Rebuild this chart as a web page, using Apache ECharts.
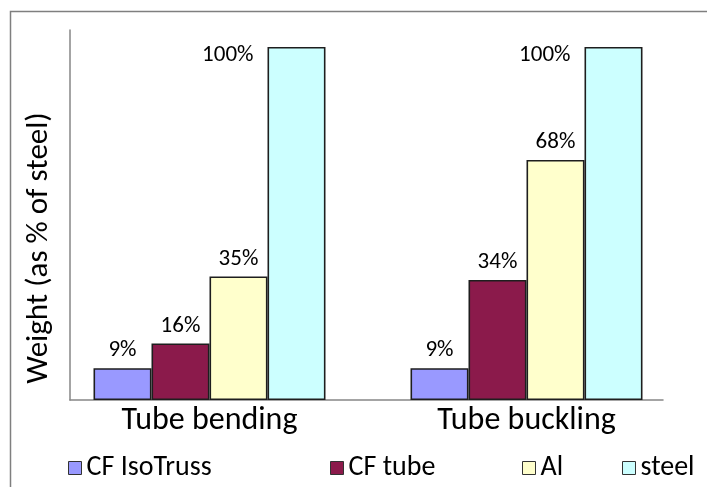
<!DOCTYPE html>
<html>
<head>
<meta charset="utf-8">
<script src="https://cdn.jsdelivr.net/npm/echarts@6/dist/echarts.min.js"></script>
<style>
html,body{margin:0;padding:0;background:#fff;}
#chart{width:707px;height:487px;}
</style>
</head>
<body>
<div id="chart"></div>
<script>
const categories = ['Tube bending', 'Tube buckling'];
const seriesNames = ['CF IsoTruss', 'CF tube', 'Al', 'steel'];
const cfIsoTruss = [9, 9];
const cfTube = [16, 34];
const aluminium = [35, 68];
const steel = [100, 100];
const seriesValues = [cfIsoTruss, cfTube, aluminium, steel];
const colors = ['#9999FF', '#8B1A4B', '#FFFFCC', '#CCFFFF'];

const FONT = 'Carlito, Lato, sans-serif';
const legendLeft = [68, 330, 522, 622];

const chart = echarts.init(document.getElementById('chart'), null, {renderer: 'canvas'});

const series = seriesNames.map((name, i) => ({
  name: name,
  type: 'bar',
  xAxisIndex: 0,
  yAxisIndex: 0,
  barWidth: 58,
  barGap: '0%',
  itemStyle: {color: colors[i], borderColor: '#1e1e1e', borderWidth: 1.6},
  label: {
    show: true,
    position: 'top',
    distance: 6,
    formatter: '{c}%',
    fontFamily: FONT,
    fontSize: 23,
    color: '#000'
  },
  data: seriesValues[i].map(v => v >= 100 ? {
    value: v,
    label: {position: [-14, 8], align: 'right', verticalAlign: 'middle'}
  } : v)
}));

const option = {
  animation: false,
  backgroundColor: '#fff',
  graphic: [{
    type: 'rect',
    shape: {x: 10.5, y: 11.5, width: 800, height: 600},
    style: {fill: 'none', stroke: '#7f7f7f', lineWidth: 1.5},
    silent: true
  }],
  grid: [
    {left: 51, width: 634, top: 47, bottom: 87},
    {left: 70, right: 44, top: 30, bottom: 87}
  ],
  xAxis: [
    {
      type: 'category', gridIndex: 0, data: categories,
      axisLine: {show: false}, axisTick: {show: false},
      axisLabel: {fontFamily: FONT, fontSize: 32, color: '#000', margin: 5}
    },
    {
      type: 'value', gridIndex: 1, min: 0, max: 1,
      axisLine: {show: true, lineStyle: {color: '#868686', width: 1.5}},
      axisTick: {show: false}, axisLabel: {show: false}, splitLine: {show: false}
    }
  ],
  yAxis: [
    {
      type: 'value', gridIndex: 0, min: 0, max: 100,
      axisLine: {show: false}, axisTick: {show: false},
      axisLabel: {show: false}, splitLine: {show: false}
    },
    {
      type: 'value', gridIndex: 1, min: 0, max: 1,
      axisLine: {show: true, lineStyle: {color: '#868686', width: 1.5}},
      axisTick: {show: false}, axisLabel: {show: false}, splitLine: {show: false},
      name: 'Weight (as % of steel)',
      nameLocation: 'middle',
      nameGap: 15,
      nameTextStyle: {fontFamily: FONT, fontSize: 31, color: '#000', padding: [0, 66, 0, 0]}
    }
  ],
  legend: seriesNames.map((name, i) => ({
    data: [name],
    left: legendLeft[i],
    top: 454,
    itemWidth: 13,
    itemHeight: 13,
    itemGap: 0,
    icon: 'rect',
    padding: 0,
    selectedMode: false,
    itemStyle: {borderColor: '#333', borderWidth: 1},
    textStyle: {fontFamily: FONT, fontSize: 28, color: '#000'}
  })),
  series: series
};
chart.setOption(option);
</script>
</body>
</html>
